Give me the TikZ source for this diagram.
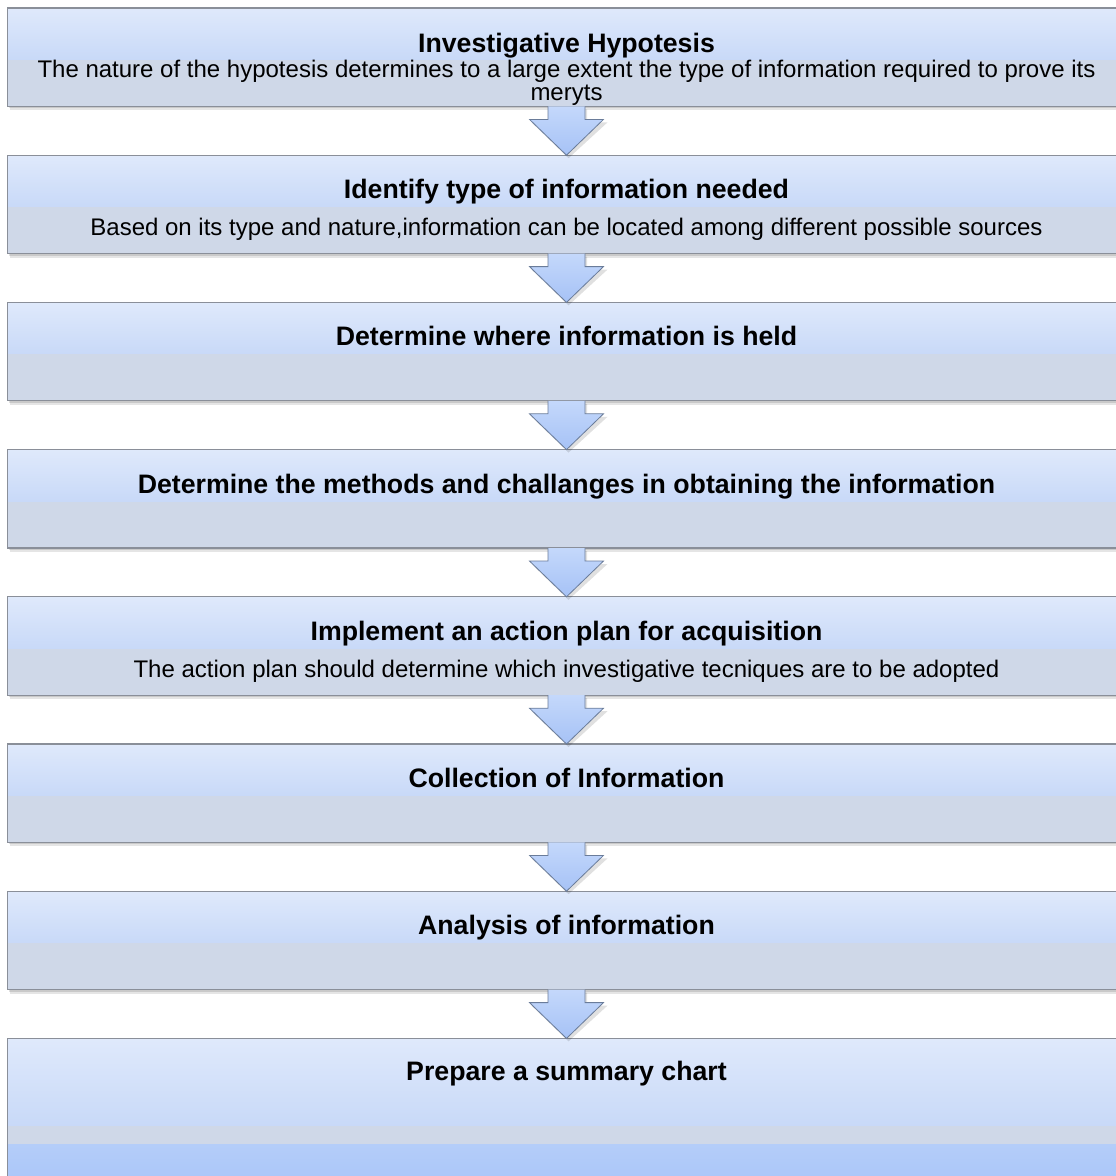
\documentclass[tikz,border=0pt]{standalone}
\usepackage{fontspec}
\setmainfont{Liberation Sans}
\usetikzlibrary{calc}
\definecolor{boxtop}{HTML}{DFE9FB}
\definecolor{boxmid}{HTML}{C8D9F8}
\definecolor{bandcol}{HTML}{CFD8E8}
\definecolor{lastlow}{HTML}{A6C3F9}
\definecolor{lasthigh}{HTML}{B4CDF9}
\definecolor{arrtop}{HTML}{C4D8FB}
\definecolor{arrbot}{HTML}{A6C2F6}
\definecolor{arredge}{HTML}{6A7C9A}
\definecolor{boxedge}{HTML}{8A8F99}
\newcommand\flowbox[2]{%
  \node[boxnode] (#1) at (566.5,-#2) {};
  \fill[black,opacity=0.10] ($(#1.north west)+(2,-2)$) rectangle ($(#1.south east)+(3,-4)$);
  \fill[black,opacity=0.12] ($(#1.north west)+(1,-1)$) rectangle ($(#1.south east)+(1.5,-2)$);
  \shade[top color=boxtop,bottom color=boxmid] (#1.north west) rectangle ($(#1.north east)+(0,-52)$);
  \fill[bandcol] ($(#1.north west)+(0,-52)$) rectangle (#1.south east);
  \draw[boxedge,line width=1.2pt] (#1.north west) rectangle (#1.south east);
}
\newcommand\flowarrow[2]{%
  \fill[black,opacity=0.12] ($(#1.south)+(-16.5,-3)$) -- ($(#1.south)+(-16.5,-16)$) -- ($(#1.south)+(-35,-16)$) -- ($(#2.north)+(2,-3)$) -- ($(#1.south)+(41,-16)$) -- ($(#1.south)+(20.5,-16)$) -- ($(#1.south)+(20.5,-3)$) -- cycle;
  \shade[top color=arrtop,bottom color=arrbot] ($(#1.south)+(-18.5,0)$) -- ($(#1.south)+(-18.5,-13)$) -- ($(#1.south)+(-37,-13)$) -- (#2.north) -- ($(#1.south)+(37,-13)$) -- ($(#1.south)+(18.5,-13)$) -- ($(#1.south)+(18.5,0)$) -- cycle;
  \draw[arredge,line width=0.8pt,line join=miter] ($(#1.south)+(-18.5,0)$) -- ($(#1.south)+(-18.5,-13)$) -- ($(#1.south)+(-37,-13)$) -- (#2.north) -- ($(#1.south)+(37,-13)$) -- ($(#1.south)+(18.5,-13)$) -- ($(#1.south)+(18.5,0)$);
}
\begin{document}
\begin{tikzpicture}[x=1pt,y=1pt,
  boxnode/.style={rectangle, minimum width=1117pt, minimum height=98pt, inner sep=0pt, anchor=north, draw=none},
  titletext/.style={font=\fontsize{26.7}{30}\selectfont\bfseries, anchor=base, inner sep=0pt},
  subtext/.style={font=\fontsize{24}{26}\selectfont, anchor=base, inner sep=0pt},
]
\useasboundingbox (0,0) rectangle (1116,-1176);
\fill[white] (0,0) rectangle (1116,-1176);

\flowbox{b1}{8}
\flowbox{b2}{155.2}
\flowbox{b3}{302.4}
\flowbox{b4}{449.6}
\flowbox{b5}{596.8}
\flowbox{b6}{744}
\flowbox{b7}{891.2}

% last box (taller, runs off the page)
\node[boxnode, minimum height=160pt] (b8) at (566.5,-1038.4) {};
\fill[black,opacity=0.12] ($(b8.north west)+(1,-1)$) rectangle ($(b8.south east)+(1.5,-2)$);
\shade[top color=boxtop,bottom color=boxmid] (b8.north west) rectangle ($(b8.north east)+(0,-88)$);
\fill[bandcol] ($(b8.north west)+(0,-88)$) rectangle ($(b8.north east)+(0,-106)$);
\shade[top color=lasthigh,bottom color=lastlow] ($(b8.north west)+(0,-106)$) rectangle (b8.south east);
\draw[boxedge,line width=1.2pt] (b8.south west) -- (b8.north west) -- (b8.north east);

\flowarrow{b1}{b2}
\flowarrow{b2}{b3}
\flowarrow{b3}{b4}
\flowarrow{b4}{b5}
\flowarrow{b5}{b6}
\flowarrow{b6}{b7}
\flowarrow{b7}{b8}

\node[titletext] (t1) at ($(b1.north)+(0,-44)$) {Investigative Hypotesis};
\node[subtext] (s1a) at ($(b1.north)+(0,-69.5)$) {The nature of the hypotesis determines to a large extent the type of information required to prove its};
\node[subtext] (s1b) at ($(b1.north)+(0,-92)$) {meryts};

\node[titletext] (t2) at ($(b2.north)+(0,-43.5)$) {Identify type of information needed};
\node[subtext] (s2) at ($(b2.north)+(0,-80.5)$) {Based on its type and nature,information can be located among different possible sources};

\node[titletext] (t3) at ($(b3.north)+(0,-43.5)$) {Determine where information is held};

\node[titletext] (t4) at ($(b4.north)+(0,-43.5)$) {Determine the methods and challanges in obtaining the information};

\node[titletext] (t5) at ($(b5.north)+(0,-43.5)$) {Implement an action plan for acquisition};
\node[subtext] (s5) at ($(b5.north)+(0,-80.5)$) {The action plan should determine which investigative tecniques are to be adopted};

\node[titletext] (t6) at ($(b6.north)+(0,-43.5)$) {Collection of Information};

\node[titletext] (t7) at ($(b7.north)+(0,-43.5)$) {Analysis of information};

\node[titletext] (t8) at ($(b8.north)+(0,-42)$) {Prepare a summary chart};
\end{tikzpicture}
\end{document}
